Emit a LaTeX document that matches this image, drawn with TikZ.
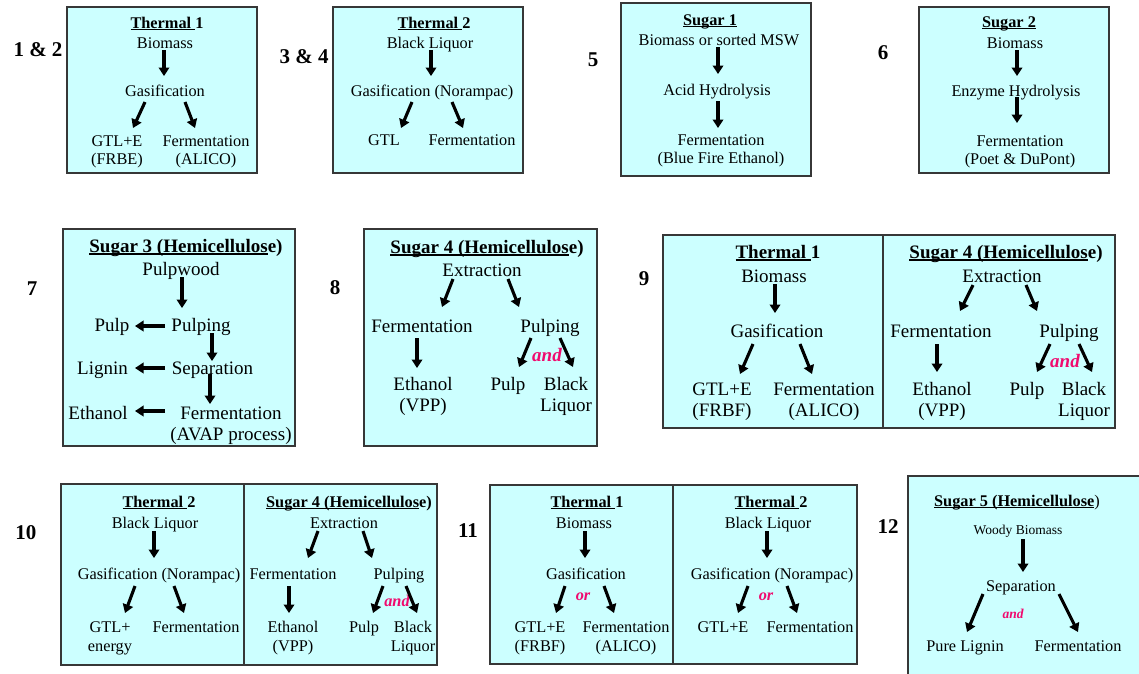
\documentclass[tikz,border=0pt]{standalone}
\usepackage{fontspec}
\setmainfont{Liberation Serif}
\usetikzlibrary{arrows.meta}

\definecolor{panelcyan}{RGB}{204,255,255}
\definecolor{edgegray}{RGB}{55,55,55}
\definecolor{conjpink}{RGB}{240,10,110}

% type sizes (1pt = one unit of the picture grid)
\newcommand\fsA{\fontsize{16.3}{19}\selectfont}
\newcommand\fsR{\fontsize{16.3}{18.3}\selectfont}
\newcommand\fsB{\fontsize{19}{21.8}\selectfont}
\newcommand\fsC{\fontsize{13.5}{15.5}\selectfont}
\newcommand\fsN{\fontsize{21}{24}\selectfont}

% underline with a fixed offset below the baseline
\newcommand\uln[1]{\sbox0{#1}\rlap{\rule[-0.14em]{\wd0}{0.075em}}\usebox0}

% thick block arrow from one label to another, each end shifted from the label's
% baseline (for two-line labels: the baseline of the last line)
\newcommand\flowto[4]{\draw[flow] ([shift={(#2)}]#1.base) -- ([shift={(#4)}]#3.base);}

\tikzset{
  panel/.style={draw=edgegray, line width=1.1pt, fill=panelcyan},
  divider/.style={draw=edgegray, line width=1.1pt},
  lbl/.style={anchor=base, inner sep=0pt, align=center},
  tR/.style={lbl, font=\fsR},
  tA/.style={lbl, font=\fsA},
  tB/.style={lbl, font=\fsB},
  tC/.style={lbl, font=\fsC},
  hR/.style={lbl, font=\fsR\bfseries},
  hA/.style={lbl, font=\fsA\bfseries},
  hB/.style={lbl, font=\fsB\bfseries},
  num/.style={lbl, font=\fsN\bfseries},
  conjA/.style={lbl, font=\fsA\bfseries\itshape, text=conjpink},
  conjB/.style={lbl, font=\fsB\bfseries\itshape, text=conjpink},
  conjC/.style={lbl, font=\fsC\bfseries\itshape, text=conjpink},
  flow/.style={line width=3.1pt, -{Triangle[length=8.5pt,width=10.5pt]}},
}

\begin{document}
\begin{tikzpicture}[x=1pt,y=-1pt]
\useasboundingbox (0,0) rectangle (1139,673);
\fill[white] (0,0) rectangle (1139,673);
\clip (0,0) rectangle (1139,673);

% ---------------- row 1 ----------------
\node[num] (l12) at (38,56) {1 \& 2};
\node[num] (l34) at (304,63) {3 \& 4};
\node[num] (l5)  at (593,66) {5};
\node[num] (l6)  at (883,59) {6};

\path[panel] (67,7) rectangle (257,173);
\path[panel] (333,7) rectangle (523,173);
\path[panel] (621,3) rectangle (811,176);
\path[panel] (919,7) rectangle (1109,173);

% Thermal 1
\node[hR] (a-tit) at (167,28) {\uln{Thermal\ }1};
\node[tR] (a-bio) at (165,48) {Biomass};
\node[tR] (a-gas) at (165,96) {Gasification};
\node[tR] (a-gtl) at (117,164.3) {GTL+E\\(FRBE)};
\node[tR] (a-fer) at (206,164.3) {Fermentation\\(ALICO)};
\flowto{a-bio}{-1,2}{a-gas}{-1,-20}
\flowto{a-gas}{-20,6}{a-gtl}{16,-36.3}
\flowto{a-gas}{20,6}{a-fer}{-11,-36.3}

% Thermal 2
\node[hR] (b-tit) at (434,28) {\uln{Thermal\ }2};
\node[tR] (b-bl)  at (430,48) {Black Liquor};
\node[tR] (b-gas) at (432,96) {Gasification (Norampac)};
\node[tR] (b-gtl) at (384,145) {GTL};
\node[tR] (b-fer) at (472,145) {Fermentation};
\flowto{b-bl}{1,2}{b-gas}{-1,-20}
\flowto{b-gas}{-20,6}{b-gtl}{17,-17}
\flowto{b-gas}{20,6}{b-fer}{-9,-17}

% Sugar 1
\node[hR] (c-tit)  at (710,25) {\uln{Sugar 1}};
\node[tR] (c-bio)  at (719,45) {Biomass or sorted MSW};
\node[tR] (c-acid) at (717,95) {Acid Hydrolysis};
\node[tR] (c-fer)  at (721,163.3) {Fermentation\\(Blue Fire Ethanol)};
\flowto{c-bio}{-1,2}{c-acid}{1,-21}
\flowto{c-acid}{1,6}{c-fer}{-3,-35.3}

% Sugar 2
\node[hR] (d-tit) at (1009,27) {\uln{Sugar 2}};
\node[tR] (d-bio) at (1015,48) {Biomass};
\node[tR] (d-enz) at (1016,96) {Enzyme Hydrolysis};
\node[tR] (d-fer) at (1020,164.3) {Fermentation\\(Poet \& DuPont)};
\flowto{d-bio}{2,2}{d-enz}{1,-20}
\flowto{d-enz}{1,1}{d-fer}{-3,-41.3}

% ---------------- row 2 ----------------
\node[num] (l7) at (32,295) {7};
\node[num] (l8) at (335,294) {8};
\node[num] (l9) at (644,285) {9};

\path[panel] (63,229) rectangle (295,446);
\path[panel] (364,229) rectangle (597,446);
\path[panel] (663,235) rectangle (1115,428);
\draw[divider] (883,235) -- (883,428);

% Sugar 3 (Hemicellulose)
\node[hB] (g-tit) at (186,252) {\uln{Sugar 3 (Hemicellulos}e)};
\node[tB] (g-pw)   at (181,275) {Pulpwood};
\node[tB] (g-pg)   at (201,331) {Pulping};
\node[tB] (g-pulp) at (112,331) {Pulp};
\node[tB] (g-sep)  at (212.5,374) {Separation};
\node[tB] (g-lig)  at (102.5,374) {Lignin};
\node[tB] (g-fer)  at (231,440.8) {Fermentation\\(AVAP process)};
\node[tB] (g-eth)  at (98,419) {Ethanol};
\flowto{g-pw}{1,2}{g-pg}{-19,-23}
\flowto{g-pg}{-36,-5}{g-pulp}{23,-5}
\flowto{g-pg}{11,2}{g-sep}{-0.5,-13}
\flowto{g-sep}{-47.5,-6}{g-lig}{32.5,-6}
\flowto{g-sep}{-2.5,0}{g-fer}{-21,-36.8}
\flowto{g-fer}{-66,-29.8}{g-eth}{37,-8}

% Sugar 4 (Hemicellulose)
\node[hB] (h-tit)  at (487,253) {\uln{Sugar 4 (Hemicellulos}e)};
\node[tB] (h-ext)  at (482,276) {Extraction};
\node[tB] (h-fer)  at (422,332) {Fermentation};
\node[tB] (h-pg)   at (550,332) {Pulping};
\node[conjB] (h-and) at (547,361) {and};
\node[tB] (h-eth)  at (423,411.8) {Ethanol\\(VPP)};
\node[tB] (h-pulp) at (508,390) {Pulp};
\node[tB] (h-bl)   at (566,411.8) {Black\\Liquor};
\flowto{h-ext}{-29,3}{h-fer}{20,-25}
\flowto{h-ext}{26,3}{h-pg}{-31,-25}
\flowto{h-fer}{-5,6}{h-eth}{-6,-43.8}
\flowto{h-pg}{-19,6}{h-pulp}{11,-23}
\flowto{h-pg}{10,6}{h-bl}{7,-44.8}

% Thermal 1 | Sugar 4
\node[hB] (i-tit1) at (778,258) {\uln{Thermal\ }1};
\node[tB] (i-bio)  at (774,282) {Biomass};
\node[tB] (i-gas)  at (777,337) {Gasification};
\node[tB] (i-gtl)  at (722,416.8) {GTL+E\\(FRBF)};
\node[tB] (i-fer1) at (824,416.8) {Fermentation\\(ALICO)};
\flowto{i-bio}{1,2}{i-gas}{-2,-24}
\flowto{i-gas}{-24,7}{i-gtl}{18,-42.8}
\flowto{i-gas}{23,7}{i-fer1}{-12,-42.8}

\node[hB] (i-tit2) at (1006,258) {\uln{Sugar 4 (Hemicellulos}e)};
\node[tB] (i-ext)  at (1002,282) {Extraction};
\node[tB] (i-fer2) at (941,337) {Fermentation};
\node[tB] (i-pg)   at (1069,337) {Pulping};
\node[conjB] (i-and) at (1065,367) {and};
\node[tB] (i-eth)  at (942,416.8) {Ethanol\\(VPP)};
\node[tB] (i-pulp) at (1027,395) {Pulp};
\node[tB] (i-bl)   at (1084,416.8) {Black\\Liquor};
\flowto{i-ext}{-29,3}{i-fer2}{19,-26}
\flowto{i-ext}{24,3}{i-pg}{-32,-26}
\flowto{i-fer2}{-4,7}{i-eth}{-5,-44.8}
\flowto{i-pg}{-19,7}{i-pulp}{10,-23}
\flowto{i-pg}{10,7}{i-bl}{8,-44.8}

% ---------------- row 3 ----------------
\node[num] (l10) at (26,539) {10};
\node[num] (l11) at (468,537) {11};
\node[num] (l12b) at (888,533) {12};

\path[panel] (61,484) rectangle (437,665);
\draw[divider] (244,484) -- (244,665);
\path[panel] (490,485) rectangle (857,664);
\draw[divider] (673,485) -- (673,664);
\path[panel] (908,476) rectangle (1150,690);

% Thermal 2 | Sugar 4
\node[hA] (j-tit1) at (159,507) {\uln{Thermal\ }2};
\node[tA] (j-bl)   at (155,528) {Black Liquor};
\node[tA] (j-gas)  at (159,579) {Gasification (Norampac)};
\node[tA] (j-gtl)  at (110,651) {GTL+\\energy};
\node[tA] (j-fer1) at (196,632) {Fermentation};
\flowto{j-bl}{-1,3}{j-gas}{-5,-21}
\flowto{j-gas}{-24,7}{j-gtl}{15,-38}
\flowto{j-gas}{15,7}{j-fer1}{-12,-19}

\node[hA] (j-tit2) at (349,507) {\uln{Sugar 4 (Hemicellulos}e)};
\node[tA] (j-ext)  at (344,528) {Extraction};
\node[tA] (j-fer2) at (293,579) {Fermentation};
\node[tA] (j-pg)   at (399,579) {Pulping};
\node[conjA] (j-and) at (397,606) {and};
\node[tA] (j-eth)  at (293,651) {Ethanol\\(VPP)};
\node[tA] (j-pulp) at (364,632) {Pulp};
\node[tA] (j-bl2)  at (413,651) {Black\\Liquor};
\flowto{j-ext}{-26,3}{j-fer2}{15,-21}
\flowto{j-ext}{19,3}{j-pg}{-27,-21}
\flowto{j-fer2}{-4,7}{j-eth}{-4,-38}
\flowto{j-pg}{-16,7}{j-pulp}{9,-19}
\flowto{j-pg}{7,7}{j-bl2}{4,-38}

% Thermal 1 | Thermal 2
\node[hA] (k-tit1) at (587,507) {\uln{Thermal\ }1};
\node[tA] (k-bio)  at (584,528) {Biomass};
\node[tA] (k-gas)  at (586,579) {Gasification};
\node[conjA] (k-or1) at (583,600) {or};
\node[tA] (k-gtl)  at (540,651) {GTL+E\\(FRBF)};
\node[tA] (k-fer1) at (626,651) {Fermentation\\(ALICO)};
\flowto{k-bio}{1,3}{k-gas}{-1,-21}
\flowto{k-gas}{-21,7}{k-gtl}{16,-38}
\flowto{k-gas}{18,7}{k-fer1}{-12,-38}

\node[hA] (k-tit2) at (771,507) {\uln{Thermal\ }2};
\node[tA] (k-bl)   at (768,528) {Black Liquor};
\node[tA] (k-gas2) at (772,579) {Gasification (Norampac)};
\node[conjA] (k-or2) at (766,600) {or};
\node[tA] (k-gtl2) at (723,632) {GTL+E};
\node[tA] (k-fer2) at (810,632) {Fermentation};
\flowto{k-bl}{-1,3}{k-gas2}{-5,-21}
\flowto{k-gas2}{-24,7}{k-gtl2}{15,-19}
\flowto{k-gas2}{15,7}{k-fer2}{-13,-19}

% Sugar 5 (Hemicellulose)
\node[lbl, font=\fsA] (m-tit) at (1017,506) {\textbf{\uln{Sugar 5 (Hemicellulose}})};
\node[tC] (m-wb)  at (1018,534) {Woody Biomass};
\node[tA] (m-sep) at (1021,591) {Separation};
\node[conjC] (m-and) at (1013,618) {and};
\node[tA] (m-pl)  at (965,651) {Pure Lignin};
\node[tA] (m-fer) at (1078,651) {Fermentation};
\flowto{m-wb}{5,5}{m-sep}{2,-19}
\flowto{m-sep}{-38,3}{m-pl}{2,-19}
\flowto{m-sep}{38,3}{m-fer}{0,-19}
\end{tikzpicture}
\end{document}
